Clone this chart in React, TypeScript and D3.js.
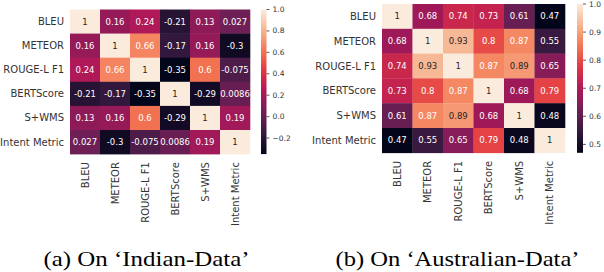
import React from 'react';
import * as d3 from 'd3';

// metric names shared by both panels
const metrics = ['BLEU', 'METEOR', 'ROUGE-L F1', 'BERTScore', 'S+WMS', 'Intent Metric'];

// correlation matrices
const indianCorr = [
  [1, 0.16, 0.24, -0.21, 0.13, 0.027],
  [0.16, 1, 0.66, -0.17, 0.16, -0.3],
  [0.24, 0.66, 1, -0.35, 0.6, -0.075],
  [-0.21, -0.17, -0.35, 1, -0.29, 0.0086],
  [0.13, 0.16, 0.6, -0.29, 1, 0.19],
  [0.027, -0.3, -0.075, 0.0086, 0.19, 1],
];

const australianCorr = [
  [1, 0.68, 0.74, 0.73, 0.61, 0.47],
  [0.68, 1, 0.93, 0.8, 0.87, 0.55],
  [0.74, 0.93, 1, 0.87, 0.89, 0.65],
  [0.73, 0.8, 0.87, 1, 0.68, 0.79],
  [0.61, 0.87, 0.89, 0.68, 1, 0.48],
  [0.47, 0.55, 0.65, 0.79, 0.48, 1],
];

const indianTicks = [-0.2, 0, 0.2, 0.4, 0.6, 0.8, 1.0];
const australianTicks = [0.5, 0.6, 0.7, 0.8, 0.9, 1.0];

const captions = ['(a) On \u2018Indian-Data\u2019', '(b) On \u2018Australian-Data\u2019'];

// seaborn "rocket" approximated by a few samples
const rocketStops = ['#03051a', '#35193e', '#701f57', '#ad1759', '#e13342', '#f37651', '#f6b48f', '#faebdd'];

const fmt = d3.format('.2~g');
const annot = (v: number) => fmt(v).replace('\u2212', '-');

const luminance = (c: string) => {
  const rgb = d3.rgb(c);
  const lin = (v: number) => {
    const s = v / 255;
    return s <= 0.03928 ? s / 12.92 : Math.pow((s + 0.055) / 1.055, 2.4);
  };
  return 0.2126 * lin(rgb.r) + 0.7152 * lin(rgb.g) + 0.0722 * lin(rgb.b);
};

interface PanelProps {
  id: string;
  data: number[][];
  ticks: number[];
  tickFmt: (v: number) => string;
  x0: number;
  y0: number;
  cellW: number;
  cellH: number;
  cbX: number;
  cbW: number;
  caption: string;
  captionX: number;
  captionW: number;
}

const Heatmap: React.FC<PanelProps> = ({ id, data, ticks, tickFmt, x0, y0, cellW, cellH, cbX, cbW, caption, captionX, captionW }) => {
  const flat = data.flat();
  const vmin = d3.min(flat) as number;
  const vmax = d3.max(flat) as number;

  const color = d3.scaleLinear<string>()
    .domain(rocketStops.map((_, i) => vmin + (vmax - vmin) * i / (rocketStops.length - 1)))
    .range(rocketStops)
    .interpolate(d3.interpolateRgb);

  const x = d3.scaleBand<string>().domain(metrics).range([x0, x0 + cellW * metrics.length]);
  const y = d3.scaleBand<string>().domain(metrics).range([y0, y0 + cellH * metrics.length]);
  const [yTop, yBot] = y.range();
  const cb = d3.scaleLinear().domain([vmin, vmax]).range([yBot, yTop]);

  const gradStops = d3.range(0, 1.0001, 0.05);

  return (
    <g>
      <defs>
        <linearGradient id={`cb-${id}`} x1="0" y1="1" x2="0" y2="0">
          {gradStops.map((t, i) => (
            <stop key={i} offset={`${t * 100}%`} stopColor={color(vmin + t * (vmax - vmin))} />
          ))}
        </linearGradient>
      </defs>

      {/* cells */}
      {data.map((row, i) =>
        row.map((v, j) => {
          const fill = color(v);
          return (
            <g key={`${i}-${j}`}>
              <rect
                x={x(metrics[j])}
                y={y(metrics[i])}
                width={x.bandwidth() + 0.3}
                height={y.bandwidth() + 0.3}
                fill={fill}
              />
              <text
                x={(x(metrics[j]) as number) + x.bandwidth() / 2}
                y={(y(metrics[i]) as number) + y.bandwidth() / 2}
                textAnchor="middle"
                dominantBaseline="central"
                fontSize={8.5}
                fill={luminance(fill) > 0.408 ? '#262626' : '#ffffff'}
              >
                {annot(v)}
              </text>
            </g>
          );
        })
      )}

      {/* row labels */}
      {metrics.map(m => (
        <text
          key={`r-${m}`}
          x={x0 - 6}
          y={(y(m) as number) + y.bandwidth() / 2}
          textAnchor="end"
          dominantBaseline="central"
          fontSize={10}
          fill="#333"
        >
          {m}
        </text>
      ))}

      {/* column labels, rotated */}
      {metrics.map(m => {
        const cx = (x(m) as number) + x.bandwidth() / 2;
        const cy = yBot + 8;
        return (
          <text
            key={`c-${m}`}
            transform={`translate(${cx},${cy}) rotate(-90)`}
            textAnchor="end"
            dominantBaseline="central"
            fontSize={10}
            fill="#333"
          >
            {m}
          </text>
        );
      })}

      {/* colorbar */}
      <rect x={cbX} y={yTop} width={cbW} height={yBot - yTop} fill={`url(#cb-${id})`} />
      {ticks.map(t => (
        <g key={`t-${t}`}>
          <line x1={cbX + cbW} x2={cbX + cbW + 3} y1={cb(t)} y2={cb(t)} stroke="#333" strokeWidth={0.8} />
          <text x={cbX + cbW + 6} y={cb(t)} dominantBaseline="central" fontSize={7.5} fill="#333">
            {tickFmt(t)}
          </text>
        </g>
      ))}

      {/* caption */}
      <text
        x={captionX}
        y={266}
        textAnchor="middle"
        fontFamily="'Liberation Serif', 'Times New Roman', serif"
        fontSize={22}
        textLength={captionW}
        lengthAdjust="spacingAndGlyphs"
        fill="#000"
      >
        {caption}
      </text>
    </g>
  );
};

const App: React.FC = () => {
  const oneDec = (v: number) => d3.format('.1f')(v);
  return (
    <svg
      width={604}
      height={272}
      style={{ position: 'absolute', left: 0, top: 0, background: '#fff' }}
      fontFamily="'DejaVu Sans', sans-serif"
    >
      <rect width={604} height={272} fill="#fff" />
      <Heatmap
        id="indian"
        data={indianCorr}
        ticks={indianTicks}
        tickFmt={oneDec}
        x0={70}
        y0={9.5}
        cellW={30}
        cellH={24.1}
        cbX={261}
        cbW={5.5}
        caption={captions[0]}
        captionX={146.5}
        captionW={206}
      />
      <Heatmap
        id="australian"
        data={australianCorr}
        ticks={australianTicks}
        tickFmt={oneDec}
        x0={382}
        y0={4}
        cellW={30.5}
        cellH={24.8}
        cbX={577}
        cbW={6}
        caption={captions[1]}
        captionX={457.5}
        captionW={244}
      />
    </svg>
  );
};

export default App;
